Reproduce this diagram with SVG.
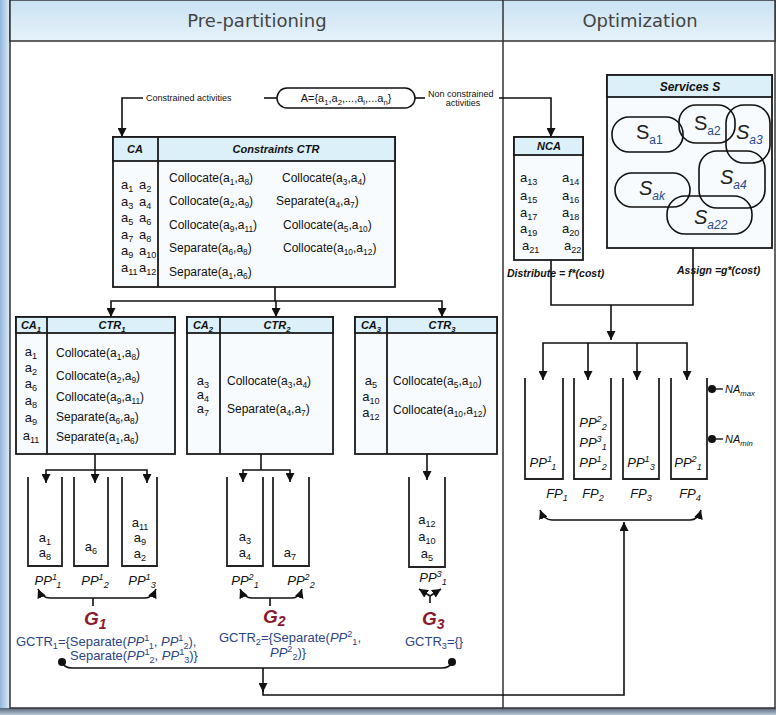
<svg xmlns="http://www.w3.org/2000/svg" width="776" height="715" viewBox="0 0 776 715">
<defs>
<linearGradient id="hg" x1="0" y1="0" x2="0" y2="1"><stop offset="0" stop-color="#c9e2f3"/><stop offset="1" stop-color="#e6f2fa"/></linearGradient>
<linearGradient id="lg" x1="0" y1="0" x2="1" y2="0"><stop offset="0" stop-color="#8fb6de"/><stop offset="1" stop-color="#e3edf7"/></linearGradient>
<linearGradient id="bg" x1="0" y1="0" x2="0" y2="1"><stop offset="0" stop-color="#55657a"/><stop offset="1" stop-color="#b9c8d8"/></linearGradient>
<marker id="ar" viewBox="0 0 10 10" refX="10" refY="5" markerWidth="9" markerHeight="9" markerUnits="userSpaceOnUse" orient="auto-start-reverse"><path d="M0,0 L10,5 L0,10 z" fill="#111"/></marker>
</defs>
<style>
.t{font-family:"Liberation Sans",Arial,sans-serif;fill:#111}
.f12{font-size:12px}
.f13{font-size:13px}
.f9{font-size:9px}
.hd{font-size:11px;font-weight:bold;font-style:italic;text-anchor:middle}
.sb{font-size:70%;baseline-shift:-3px}
.sp{font-size:70%;baseline-shift:5px}
.it{font-style:italic}
.mid{text-anchor:middle}
.box{fill:#f8fbfd;stroke:#1a1a1a;stroke-width:1.8}
.hdr{fill:#dcf0f9;stroke:#1a1a1a;stroke-width:1.8}
.ln{fill:none;stroke:#111;stroke-width:1.6}
.bin{fill:none;stroke:#222;stroke-width:1.8}
.pill{fill:none;stroke:#111;stroke-width:1.6}
.ttl{font-family:"DejaVu Sans",Verdana,sans-serif;font-size:18px;fill:#444;text-anchor:middle}
.g{font-family:"Liberation Sans",Arial,sans-serif;font-size:19px;font-weight:bold;font-style:italic;fill:#8b1a2e}
.gc{font-family:"Liberation Sans",Arial,sans-serif;font-size:13px;fill:#2b4585}
.S{font-family:"Liberation Sans",Arial,sans-serif;font-size:20px;fill:#222}
.Ss{font-size:12px;fill:#2a4a8a;baseline-shift:-5px}
.lab{font-family:"Liberation Sans",Arial,sans-serif;font-size:10.5px;font-weight:bold;font-style:italic;fill:#111}
</style>

<!-- frame -->
<rect x="0" y="0" width="10" height="715" fill="url(#lg)"/>
<rect x="0" y="708" width="776" height="7" fill="url(#bg)"/>
<rect x="10" y="0" width="765" height="708" fill="#fff" stroke="#333" stroke-width="1.5"/>
<rect x="10" y="0" width="765" height="41" fill="url(#hg)" stroke="#333" stroke-width="1.5"/>
<line x1="503" y1="0" x2="503" y2="708" stroke="#333" stroke-width="1.5"/>
<text class="ttl" x="257" y="27">Pre-partitioning</text>
<text class="ttl" x="640" y="27">Optimization</text>

<!-- connectors -->
<g id="connectors">
<path class="ln" d="M143,98 L122,98 L122,137" marker-end="url(#ar)"/>
<path class="ln" d="M264,98 L277,98"/>
<path class="ln" d="M415,98 L425,98"/>
<path class="ln" d="M499,98 L551,98 L551,137" marker-end="url(#ar)"/>
<text class="t f9" x="146" y="101">Constrained activities</text>
<text class="t f9" x="428" y="97">Non constrained</text>
<text class="t f9 mid" x="463" y="106">activities</text>

<path class="ln" d="M275,287 L275,301"/>
<path class="ln" d="M111,317 L111,301 L442,301 L442,317" marker-start="url(#ar)" marker-end="url(#ar)"/>
<path class="ln" d="M276,301 L276,317" marker-end="url(#ar)"/>

<path class="ln" d="M95,454 L95,470"/>
<path class="ln" d="M46,483 L46,470 L147,470 L147,483" marker-start="url(#ar)" marker-end="url(#ar)"/>
<path class="ln" d="M95,470 L95,483" marker-end="url(#ar)"/>
<path class="ln" d="M261,454 L261,470"/>
<path class="ln" d="M243,482 L243,470 L290,470 L290,482" marker-start="url(#ar)" marker-end="url(#ar)"/>
<path class="ln" d="M427,454 L427,480" marker-end="url(#ar)"/>

<path class="ln" d="M38,589 Q42,598 50,598 L145,598 Q152,598 156,589" marker-start="url(#ar)" marker-end="url(#ar)"/>
<path class="ln" d="M93,598 L93,606"/>
<path class="ln" d="M240,589 Q244,598 252,598 L292,598 Q299,598 302,589" marker-start="url(#ar)" marker-end="url(#ar)"/>
<path class="ln" d="M270,598 L270,606"/>
<path class="ln" d="M430,603 L430,596 L419,589" marker-end="url(#ar)"/>
<path class="ln" d="M430,596 L441,589" marker-end="url(#ar)"/>

<circle cx="62" cy="662" r="4" fill="#111"/>
<circle cx="452" cy="662" r="4" fill="#111"/>
<path class="ln" d="M62,662 Q64,668 72,668 L442,668 Q450,668 452,662"/>
<path class="ln" d="M263,668 L263,692" marker-end="url(#ar)"/>
<path class="ln" d="M263,690 L263,695 L624,695 L624,522" marker-end="url(#ar)"/>

<path class="ln" d="M551,260 L551,305 L693,305 L693,248"/>
<path class="ln" d="M611,305 L611,340" marker-end="url(#ar)"/>
<path class="ln" d="M543,380 L543,343 L687,343 L687,380" marker-start="url(#ar)" marker-end="url(#ar)"/>
<path class="ln" d="M588,343 L588,380" marker-end="url(#ar)"/>
<path class="ln" d="M637,343 L637,380" marker-end="url(#ar)"/>
<path class="ln" d="M540,510 Q544,520 552,520 L690,520 Q698,520 701,510" marker-start="url(#ar)" marker-end="url(#ar)"/>
<text class="lab" x="507" y="277">Distribute = f*(cost)</text>
<text class="lab" x="677" y="274">Assign =g*(cost)</text>
</g>

<!-- A set -->
<g id="A">
<rect x="277" y="88" width="138" height="20" rx="10" fill="#fff" stroke="#111" stroke-width="1.5"/>
<text class="t mid" font-size="11" x="346" y="102">A={a<tspan class="sb">1</tspan>,a<tspan class="sb">2</tspan>,...,a<tspan class="sb">i</tspan>,...a<tspan class="sb">n</tspan>}</text>
</g>

<!-- CA table -->
<g id="CA">
<rect class="box" x="113" y="137" width="282" height="150"/>
<rect class="hdr" x="113" y="137" width="282" height="24"/>
<line x1="158" y1="137" x2="158" y2="287" stroke="#1a1a1a" stroke-width="1.8"/>
<text class="t hd" x="135" y="153">CA</text>
<text class="t hd" x="276" y="153">Constraints CTR</text>
<g class="t f13">
<text x="121" y="189">a<tspan class="sb">1</tspan></text><text x="139" y="189">a<tspan class="sb">2</tspan></text>
<text x="121" y="206">a<tspan class="sb">3</tspan></text><text x="139" y="206">a<tspan class="sb">4</tspan></text>
<text x="121" y="222">a<tspan class="sb">5</tspan></text><text x="139" y="222">a<tspan class="sb">6</tspan></text>
<text x="121" y="239">a<tspan class="sb">7</tspan></text><text x="139" y="239">a<tspan class="sb">8</tspan></text>
<text x="121" y="255">a<tspan class="sb">9</tspan></text><text x="139" y="255">a<tspan class="sb">10</tspan></text>
<text x="121" y="272">a<tspan class="sb">11</tspan></text><text x="139" y="272">a<tspan class="sb">12</tspan></text>
</g>
<g class="t f12">
<text x="169" y="182">Collocate(a<tspan class="sb">1</tspan>,a<tspan class="sb">8</tspan>)</text>
<text x="169" y="205">Collocate(a<tspan class="sb">2</tspan>,a<tspan class="sb">9</tspan>)</text>
<text x="169" y="229">Collocate(a<tspan class="sb">9</tspan>,a<tspan class="sb">11</tspan>)</text>
<text x="169" y="252">Separate(a<tspan class="sb">6</tspan>,a<tspan class="sb">8</tspan>)</text>
<text x="169" y="276">Separate(a<tspan class="sb">1</tspan>,a<tspan class="sb">6</tspan>)</text>
<text x="282" y="182">Collocate(a<tspan class="sb">3</tspan>,a<tspan class="sb">4</tspan>)</text>
<text x="276" y="205">Separate(a<tspan class="sb">4</tspan>,a<tspan class="sb">7</tspan>)</text>
<text x="283" y="229">Collocate(a<tspan class="sb">5</tspan>,a<tspan class="sb">10</tspan>)</text>
<text x="283" y="252">Collocate(a<tspan class="sb">10</tspan>,a<tspan class="sb">12</tspan>)</text>
</g>
</g>

<!-- NCA -->
<g id="NCA">
<rect class="box" x="514" y="137" width="69" height="123"/>
<rect class="hdr" x="514" y="137" width="69" height="18"/>
<text class="t hd" x="549" y="150">NCA</text>
<g class="t f13">
<text x="520" y="182">a<tspan class="sb">13</tspan></text><text x="562" y="182">a<tspan class="sb">14</tspan></text>
<text x="520" y="200">a<tspan class="sb">15</tspan></text><text x="562" y="200">a<tspan class="sb">16</tspan></text>
<text x="520" y="217">a<tspan class="sb">17</tspan></text><text x="562" y="217">a<tspan class="sb">18</tspan></text>
<text x="520" y="233">a<tspan class="sb">19</tspan></text><text x="562" y="233">a<tspan class="sb">20</tspan></text>
<text x="522" y="250">a<tspan class="sb">21</tspan></text><text x="564" y="250">a<tspan class="sb">22</tspan></text>
</g>
</g>

<!-- Services -->
<g id="services">
<rect class="box" x="607" y="75" width="165" height="173" fill="#fff"/>
<rect class="hdr" x="607" y="75" width="165" height="22"/>
<text class="t" font-size="12" font-weight="bold" font-style="italic" text-anchor="middle" x="690" y="91">Services S</text>
<rect class="pill" x="612" y="117" width="71" height="35" rx="17"/>
<rect class="pill" x="679" y="105" width="56" height="38" rx="17"/>
<rect class="pill" x="726" y="105" width="44" height="58" rx="18"/>
<rect class="pill" x="699" y="151" width="66" height="57" rx="18"/>
<rect class="pill" x="615" y="173" width="75" height="34" rx="17"/>
<rect class="pill" x="667" y="196" width="85" height="38" rx="18"/>
<text class="S" x="636" y="139">S<tspan class="Ss">a1</tspan></text>
<text class="S" x="694" y="130">S<tspan class="Ss">a2</tspan></text>
<text class="S it" x="736" y="139">S<tspan class="Ss">a3</tspan></text>
<text class="S it" x="720" y="184">S<tspan class="Ss">a4</tspan></text>
<text class="S it" x="639" y="195">S<tspan class="Ss">ak</tspan></text>
<text class="S it" x="694" y="224">S<tspan class="Ss">a22</tspan></text>
</g>

<!-- CA1 -->
<g id="CA1">
<rect class="box" x="16" y="317" width="159" height="137"/>
<rect class="hdr" x="16" y="317" width="159" height="16"/>
<line x1="47" y1="317" x2="47" y2="454" stroke="#1a1a1a" stroke-width="1.8"/>
<text class="t hd" x="31" y="329">CA<tspan class="sb">1</tspan></text>
<text class="t hd" x="112" y="329">CTR<tspan class="sb">1</tspan></text>
<g class="t f13 mid">
<text x="31" y="356">a<tspan class="sb">1</tspan></text>
<text x="31" y="372">a<tspan class="sb">2</tspan></text>
<text x="31" y="388">a<tspan class="sb">6</tspan></text>
<text x="31" y="405">a<tspan class="sb">8</tspan></text>
<text x="31" y="422">a<tspan class="sb">9</tspan></text>
<text x="31" y="440">a<tspan class="sb">11</tspan></text>
</g>
<g class="t f12">
<text x="56" y="357">Collocate(a<tspan class="sb">1</tspan>,a<tspan class="sb">8</tspan>)</text>
<text x="56" y="380">Collocate(a<tspan class="sb">2</tspan>,a<tspan class="sb">9</tspan>)</text>
<text x="56" y="401">Collocate(a<tspan class="sb">9</tspan>,a<tspan class="sb">11</tspan>)</text>
<text x="56" y="421">Separate(a<tspan class="sb">6</tspan>,a<tspan class="sb">8</tspan>)</text>
<text x="56" y="441">Separate(a<tspan class="sb">1</tspan>,a<tspan class="sb">6</tspan>)</text>
</g>
</g>

<!-- CA2 -->
<g id="CA2">
<rect class="box" x="187" y="317" width="146" height="137"/>
<rect class="hdr" x="187" y="317" width="146" height="16"/>
<line x1="220" y1="317" x2="220" y2="454" stroke="#1a1a1a" stroke-width="1.8"/>
<text class="t hd" x="203" y="329">CA<tspan class="sb">2</tspan></text>
<text class="t hd" x="277" y="329">CTR<tspan class="sb">2</tspan></text>
<g class="t f13 mid">
<text x="203" y="385">a<tspan class="sb">3</tspan></text>
<text x="203" y="399">a<tspan class="sb">4</tspan></text>
<text x="203" y="413">a<tspan class="sb">7</tspan></text>
</g>
<g class="t f12">
<text x="227" y="385">Collocate(a<tspan class="sb">3</tspan>,a<tspan class="sb">4</tspan>)</text>
<text x="227" y="413">Separate(a<tspan class="sb">4</tspan>,a<tspan class="sb">7</tspan>)</text>
</g>
</g>

<!-- CA3 -->
<g id="CA3">
<rect class="box" x="355" y="317" width="142" height="137"/>
<rect class="hdr" x="355" y="317" width="142" height="16"/>
<line x1="387" y1="317" x2="387" y2="454" stroke="#1a1a1a" stroke-width="1.8"/>
<text class="t hd" x="371" y="329">CA<tspan class="sb">3</tspan></text>
<text class="t hd" x="442" y="329">CTR<tspan class="sb">3</tspan></text>
<g class="t f13 mid">
<text x="371" y="385">a<tspan class="sb">5</tspan></text>
<text x="371" y="401">a<tspan class="sb">10</tspan></text>
<text x="371" y="417">a<tspan class="sb">12</tspan></text>
</g>
<g class="t f12">
<text x="393" y="385">Collocate(a<tspan class="sb">5</tspan>,a<tspan class="sb">10</tspan>)</text>
<text x="393" y="414">Collocate(a<tspan class="sb">10</tspan>,a<tspan class="sb">12</tspan>)</text>
</g>
</g>

<!-- G1 bins -->
<g id="G1">
<path class="bin" d="M28,477 L28,566 L62,566 L62,477"/>
<path class="bin" d="M74,477 L74,566 L108,566 L108,477"/>
<path class="bin" d="M122,477 L122,566 L157,566 L157,477"/>
<g class="t f13 mid">
<text x="45" y="542">a<tspan class="sb">1</tspan></text>
<text x="45" y="557">a<tspan class="sb">8</tspan></text>
<text x="91" y="551">a<tspan class="sb">6</tspan></text>
<text x="140" y="527">a<tspan class="sb">11</tspan></text>
<text x="140" y="542">a<tspan class="sb">9</tspan></text>
<text x="140" y="558">a<tspan class="sb">2</tspan></text>
</g>
<g class="t f13 it mid">
<text x="48" y="585">PP<tspan class="sp">1</tspan><tspan class="sb">1</tspan></text>
<text x="95" y="585">PP<tspan class="sp">1</tspan><tspan class="sb">2</tspan></text>
<text x="142" y="585">PP<tspan class="sp">1</tspan><tspan class="sb">3</tspan></text>
</g>
<text class="g" x="84" y="625">G<tspan font-size="14" baseline-shift="-4">1</tspan></text>
<text class="gc" x="16" y="646">GCTR<tspan class="sb">1</tspan>={Separate(<tspan class="it">PP</tspan><tspan class="sp">1</tspan><tspan class="sb">1</tspan>, <tspan class="it">PP</tspan><tspan class="sp">1</tspan><tspan class="sb">2</tspan>),</text>
<text class="gc" x="70" y="660">Separate(<tspan class="it">PP</tspan><tspan class="sp">1</tspan><tspan class="sb">2</tspan>, <tspan class="it">PP</tspan><tspan class="sp">1</tspan><tspan class="sb">3</tspan>)}</text>
</g>

<!-- G2 bins -->
<g id="G2">
<path class="bin" d="M227,477 L227,566 L263,566 L263,477"/>
<path class="bin" d="M273,477 L273,566 L309,566 L309,477"/>
<g class="t f13 mid">
<text x="245" y="541">a<tspan class="sb">3</tspan></text>
<text x="245" y="557">a<tspan class="sb">4</tspan></text>
<text x="290" y="557">a<tspan class="sb">7</tspan></text>
</g>
<g class="t f13 it mid">
<text x="245" y="585">PP<tspan class="sp">2</tspan><tspan class="sb">1</tspan></text>
<text x="301" y="585">PP<tspan class="sp">2</tspan><tspan class="sb">2</tspan></text>
</g>
<text class="g" x="263" y="623">G<tspan font-size="14" baseline-shift="-3">2</tspan></text>
<text class="gc" x="219" y="642">GCTR<tspan class="sb">2</tspan>={Separate(<tspan class="it">PP</tspan><tspan class="sp">2</tspan><tspan class="sb">1</tspan>,</text>
<text class="gc" x="270" y="657"><tspan class="it">PP</tspan><tspan class="sp">2</tspan><tspan class="sb">2</tspan>)}</text>
</g>

<!-- G3 bin -->
<g id="G3">
<path class="bin" d="M409,477 L409,567 L445,567 L445,477"/>
<g class="t f13 mid">
<text x="427" y="524">a<tspan class="sb">12</tspan></text>
<text x="427" y="541">a<tspan class="sb">10</tspan></text>
<text x="427" y="558">a<tspan class="sb">5</tspan></text>
</g>
<text class="t f13 it mid" x="433" y="582">PP<tspan class="sp">3</tspan><tspan class="sb">1</tspan></text>
<text class="g" x="422" y="625">G<tspan font-size="14" baseline-shift="-4">3</tspan></text>
<text class="gc" x="405" y="646">GCTR<tspan class="sb">3</tspan>={}</text>
</g>

<!-- FP bins -->
<g id="FP">
<path class="bin" d="M525,378 L525,479 L563,479 L563,378"/>
<path class="bin" d="M574,378 L574,479 L611,479 L611,378"/>
<path class="bin" d="M623,378 L623,479 L659,479 L659,378"/>
<path class="bin" d="M671,378 L671,479 L707,479 L707,378"/>
<g class="t f13 it mid">
<text x="543" y="467">PP<tspan class="sp">1</tspan><tspan class="sb">1</tspan></text>
<text x="593" y="427">PP<tspan class="sp">2</tspan><tspan class="sb">2</tspan></text>
<text x="593" y="447">PP<tspan class="sp">3</tspan><tspan class="sb">1</tspan></text>
<text x="593" y="467">PP<tspan class="sp">1</tspan><tspan class="sb">2</tspan></text>
<text x="641" y="467">PP<tspan class="sp">1</tspan><tspan class="sb">3</tspan></text>
<text x="688" y="467">PP<tspan class="sp">2</tspan><tspan class="sb">1</tspan></text>
<text x="557" y="498">FP<tspan class="sb">1</tspan></text>
<text x="593" y="498">FP<tspan class="sb">2</tspan></text>
<text x="641" y="498">FP<tspan class="sb">3</tspan></text>
<text x="690" y="498">FP<tspan class="sb">4</tspan></text>
</g>
<circle cx="712" cy="389" r="4" fill="#111"/>
<line x1="716" y1="389" x2="723" y2="389" stroke="#111" stroke-width="1.4"/>
<text class="t it" font-size="11" x="725" y="393">NA<tspan class="sb">max</tspan></text>
<circle cx="712" cy="439" r="4" fill="#111"/>
<line x1="716" y1="439" x2="723" y2="439" stroke="#111" stroke-width="1.4"/>
<text class="t it" font-size="11" x="725" y="443">NA<tspan class="sb">min</tspan></text>
</g>
</svg>
